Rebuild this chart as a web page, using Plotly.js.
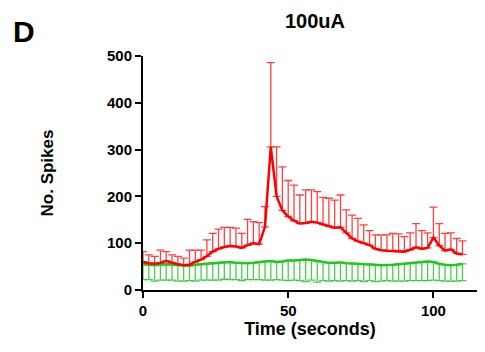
<!DOCTYPE html>
<html>
<head>
<meta charset="utf-8">
<script src="https://cdn.plot.ly/plotly-3.0.1.min.js"></script>
<style>
  html, body { margin: 0; padding: 0; background: #fff; }
  #chart { width: 485px; height: 352px; }
</style>
</head>
<body>
<div id="chart"></div>
<script>
// Sampling times (seconds)
const timeSec = [0,2,4,6,8,10,12,14,16,18,20,22,24,26,28,30,32,34,36,38,40,42,44,46,48,50,52,54,56,58,60,62,64,66,68,70,72,74,76,78,80,82,84,86,88,90,92,94,96,98,100,102,104,106,108,110];

// Stimulated group: mean spike count and SEM (shown above the mean)
const stimMean = [60,57,56,58,62,58,55,53,54,60,65,72,82,88,92,94,93,90,96,100,98,135,306,200,170,157,148,142,143,146,144,140,136,133,134,122,110,104,100,96,88,85,84,83,82,82,86,91,88,90,112,95,84,87,78,76];
const stimSem = [22,18,16,27,20,17,17,15,31,25,20,35,39,42,42,40,39,31,55,46,46,43,180,106,93,77,76,61,71,68,66,58,60,59,69,49,50,49,39,31,30,33,34,38,38,32,36,51,39,32,65,47,37,35,32,29];

// Control group: mean spike count and SEM (shown below the mean)
const ctrlMean = [55,54,53,54,55,54,53,52,52,54,55,57,58,59,60,60,58,57,57,58,60,61,62,60,61,63,63,64,65,64,62,60,58,58,59,57,57,56,55,55,54,53,53,54,55,56,58,59,60,61,60,56,54,53,54,56];
const ctrlSem = [33,32,34,33,34,33,34,33,32,35,34,36,37,38,37,38,36,37,35,36,38,40,41,38,40,43,42,44,47,43,45,40,39,38,40,37,38,36,37,35,36,34,33,35,36,37,38,39,40,41,39,36,35,34,35,36];

const xTicks = [0, 50, 100];
const yTicks = [0, 100, 200, 300, 400, 500];

const zeros = timeSec.map(() => 0);
const RED = '#ff0000';
const GREEN = '#1ec81e';
const FONT = 'Liberation Sans, Arial, sans-serif';

const traces = [
  {
    x: timeSec, y: ctrlMean, type: 'scatter', mode: 'lines',
    line: { color: GREEN, width: 2.5 },
    error_y: { type: 'data', symmetric: false, array: zeros, arrayminus: ctrlSem,
               color: 'rgba(40,200,40,0.85)', thickness: 1.3, width: 4 },
    hoverinfo: 'skip'
  },
  {
    x: timeSec, y: stimMean, type: 'scatter', mode: 'lines',
    line: { color: RED, width: 2.5 },
    error_y: { type: 'data', symmetric: false, array: stimSem, arrayminus: zeros,
               color: 'rgba(255,30,30,0.85)', thickness: 1.3, width: 4 },
    hoverinfo: 'skip'
  }
];

const tickFont = { family: FONT, size: 15, color: '#000', weight: 'bold' };

const layout = {
  width: 485, height: 352,
  margin: { l: 143, r: 8, t: 56, b: 62 },
  paper_bgcolor: '#fff', plot_bgcolor: '#fff',
  showlegend: false,
  title: {
    text: '<b>100uA</b>',
    font: { family: FONT, size: 20, color: '#000' },
    xref: 'paper', x: 0.515, xanchor: 'center',
    yref: 'container', y: 0.94, yanchor: 'middle'
  },
  xaxis: {
    range: [0, 115],
    tickvals: xTicks, ticktext: xTicks.map(String),
    ticks: 'outside', ticklen: 6, tickwidth: 2, tickcolor: '#000',
    showline: true, linecolor: '#000', linewidth: 2,
    showgrid: false, zeroline: false,
    tickfont: tickFont,
    title: { text: '<b>Time (seconds)</b>', standoff: 4,
             font: { family: FONT, size: 18, color: '#000' } }
  },
  yaxis: {
    range: [0, 500],
    tickvals: yTicks, ticktext: yTicks.map(String),
    ticks: 'outside', ticklen: 6, tickwidth: 2, tickcolor: '#000',
    showline: true, linecolor: '#000', linewidth: 2,
    showgrid: false, zeroline: false,
    tickfont: tickFont,
    title: { text: '<b>No. Spikes</b>', standoff: 49,
             font: { family: FONT, size: 17, color: '#000' } }
  },
  annotations: [
    { text: '<b>D</b>', xref: 'paper', yref: 'paper', x: -0.356, y: 1.103,
      xanchor: 'center', yanchor: 'middle', showarrow: false,
      font: { family: FONT, size: 30, color: '#000' } }
  ]
};

Plotly.newPlot('chart', traces, layout, { displayModeBar: false, staticPlot: true });
</script>
</body>
</html>
